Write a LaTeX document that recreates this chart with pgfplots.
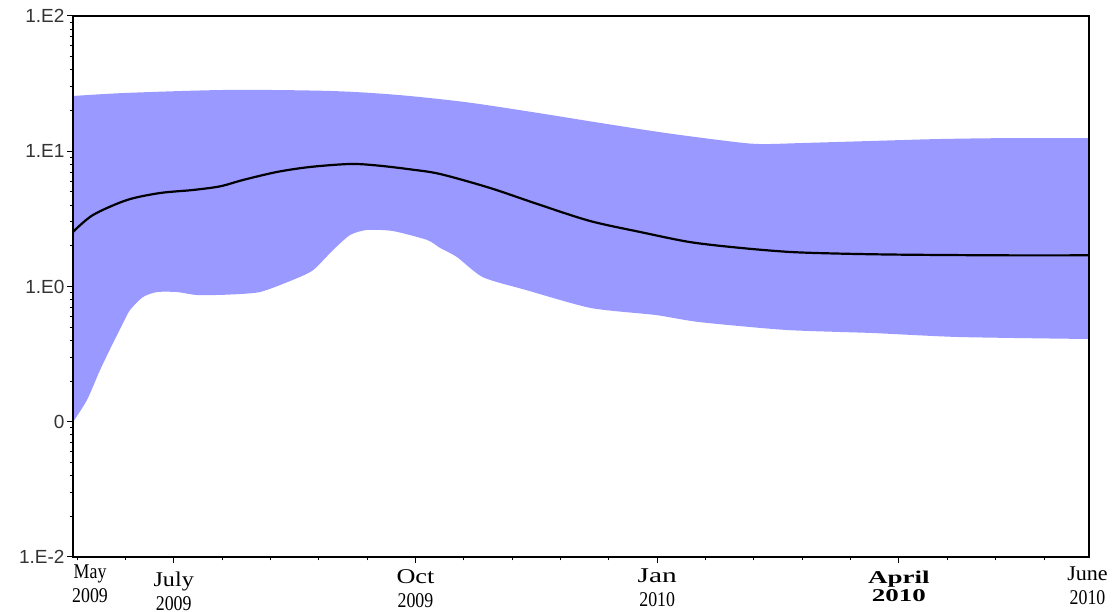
\documentclass[border=0pt]{standalone}
\usepackage{fontspec}
\setmainfont{Liberation Serif}
\newfontfamily\arialfont{Liberation Sans}
\newfontfamily\numfont{Liberation Serif}[FakeStretch=0.85]
\newfontfamily\mayfont{Liberation Serif}[FakeStretch=0.85]
\newfontfamily\julyfont{Liberation Serif}[FakeStretch=1.15]
\newfontfamily\octfont{Liberation Serif}[FakeStretch=1.25]
\newfontfamily\janfont{Liberation Serif}[FakeStretch=1.4]
\newfontfamily\junefont{Liberation Serif}[FakeStretch=1.05]
\newfontfamily\aprilfont{Liberation Serif Bold}[FakeStretch=1.5]
\usepackage{pgfplots}
\pgfplotsset{compat=1.18}
\usepgfplotslibrary{fillbetween}
\definecolor{band}{RGB}{153,153,255}
\begin{document}
\begin{tikzpicture}
\begin{axis}[
  at={(73pt,55pt)}, anchor=south west,
  scale only axis, width=1016pt, height=541pt,
  ymode=log, ymin=0.01, ymax=100,
  xmin=-0.083, xmax=20.93,
  axis on top=true,
  axis line style={line width=1.3pt},
  tick style={line width=1pt, black},
  ytick={0.01,0.1,1,10,100},
  yticklabels={1.E-2,0,1.E0,1.E1,1.E2},
  ytick align=outside, ytick pos=left,
  xtick align=outside, xtick pos=bottom,
  major tick length=6pt, minor tick length=3.5pt,
  y tick label style={font=\arialfont\fontsize{19}{21}\selectfont, text=black!80, xshift=1pt},
  xtick={2,7,12,17},
  xticklabels={{\julyfont July}\\{\numfont 2009},
               {\octfont Oct}\\{\numfont 2009},
               {\janfont Jan}\\{\numfont 2010},
               {\aprilfont\fontsize{18}{24}\selectfont April}\\[-6pt]{\aprilfont\fontsize{18}{24}\selectfont 2010}},
  minor xtick={0,1,...,20},
  x tick label style={font=\fontsize{21}{24}\selectfont, align=center,
     yshift={(\ticknum==0)*(-5)+(\ticknum==1)*(-3)+(\ticknum==2)*(-2)+(\ticknum==3)*(-4)}},
  extra x ticks={0.27,20.9},
  extra x tick labels={{\mayfont May}\\{\numfont 2009}, {\junefont June}\\{\numfont 2010}},
  extra x tick style={major tick length=0pt, x tick label style={yshift={(\ticknum==0)*(1)+(\ticknum==1)*(-3)}}},
]
\addplot[name path=up, draw=none, smooth, tension=0.5] coordinates {
(-0.083,25.6) (1.034,27.0) (3.144,28.4) (5.233,27.9) (6.618,26.1) (8.025,23.1)
(9.410,19.5) (10.817,16.2) (12.203,13.6) (13.609,11.7) (14.168,11.3) (14.995,11.5)
(16.401,11.9) (17.787,12.3) (19.193,12.5) (20.93,12.5)};
\addplot[name path=lo, draw=none, smooth, tension=0.4] coordinates {
(-0.083,0.0995) (0.207,0.145) (0.476,0.241) (0.745,0.382) (0.931,0.519) (1.096,0.670)
(1.365,0.836) (1.655,0.910) (2.068,0.910) (2.482,0.865) (3.10,0.870) (3.785,0.910)
(4.467,1.12) (4.881,1.32) (5.295,1.86)
(5.646,2.40) (5.998,2.62) (6.536,2.57) (7.239,2.21) (7.508,1.93) (7.859,1.65)
(8.397,1.17) (9.286,0.942) (10.631,0.693) (11.975,0.615) (12.865,0.546)
(14.664,0.477) (16.443,0.453) (18.242,0.423) (20.93,0.409)};
\addplot[band, draw=none] fill between[of=up and lo];
\addplot[black, line width=2.2pt, smooth, tension=0.5] coordinates {
(-0.083,2.53) (0.331,3.38) (1.034,4.36) (1.717,4.91) (2.399,5.17) (2.958,5.50)
(3.433,6.13) (4.137,7.03) (4.819,7.65) (5.646,8.05) (6.205,7.85) (6.887,7.35)
(7.508,6.79) (8.542,5.35) (9.576,4.01) (10.610,3.05) (11.644,2.53) (12.678,2.13)
(13.713,1.93) (14.747,1.80) (15.781,1.75) (17.022,1.72) (19.090,1.70) (20.93,1.70)};
\end{axis}
\pgfresetboundingbox
\useasboundingbox (0,0) rectangle (1118pt,612pt);
\end{tikzpicture}
\end{document}
